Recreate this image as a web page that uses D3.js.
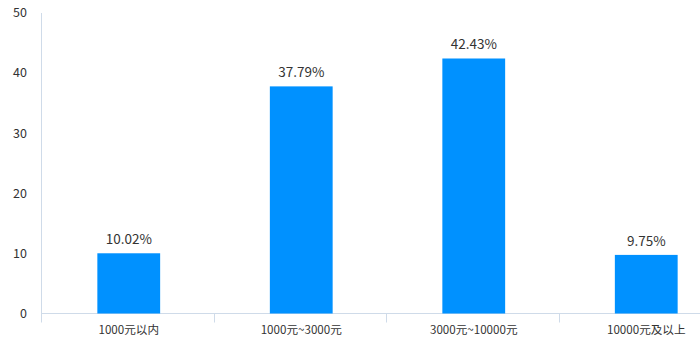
<!DOCTYPE html>
<html><head><meta charset="utf-8">
<script src="https://cdn.jsdelivr.net/npm/d3@7/dist/d3.min.js"></script>
<style>body{margin:0;background:#fff}svg{display:block}text{font-family:"Noto Sans CJK SC","Microsoft YaHei",sans-serif;fill:#333}</style>
</head><body><svg id="c" width="700" height="352"></svg>
<script>
const categories = ["1000元以内", "1000元~3000元", "3000元~10000元", "10000元及以上"];
const values = [10.02, 37.79, 42.43, 9.75];
const yTicks = [0, 10, 20, 30, 40, 50];

const svg = d3.select("#c");
const x = d3.scaleBand().domain(categories).range([41, 731]).paddingInner(0).paddingOuter(0);
const y = d3.scaleLinear().domain([0, 50]).range([313.5, 13]);
const axisColor = "#cfdbe9";
const shift = 1.5;

svg.append("line").attr("x1", 41.5).attr("x2", 41.5).attr("y1", y(50)).attr("y2", y(0)).attr("stroke", axisColor);
svg.selectAll(".yt").data(yTicks).enter().append("text")
  .attr("x", 27).attr("y", d => y(d)).attr("dy", "0.35em").attr("text-anchor", "end")
  .attr("font-size", 12.5).text(d => d);

svg.append("line").attr("x1", 41).attr("x2", 731).attr("y1", y(0)).attr("y2", y(0)).attr("stroke", axisColor);
const bounds = categories.map(c => x(c)).concat([x.range()[1]]);
svg.selectAll(".xt").data(bounds).enter().append("line")
  .attr("x1", d => Math.round(d) + 0.5).attr("x2", d => Math.round(d) + 0.5)
  .attr("y1", y(0)).attr("y2", y(0) + 9).attr("stroke", axisColor);

const bw = 62.8;
const cx = c => x(c) + x.bandwidth() / 2 + shift;
svg.selectAll(".bar").data(values).enter().append("rect")
  .attr("x", (d, i) => cx(categories[i]) - bw / 2)
  .attr("width", bw)
  .attr("y", d => y(d)).attr("height", d => y(0) - y(d))
  .attr("fill", "#0091ff");

svg.selectAll(".vl").data(values).enter().append("text")
  .attr("x", (d, i) => cx(categories[i]))
  .attr("y", d => y(d) - 9).attr("text-anchor", "middle")
  .attr("font-size", 13.5).text(d => d.toFixed(2) + "%");

svg.selectAll(".cl").data(categories).enter().append("text")
  .attr("x", d => cx(d)).attr("y", 334)
  .attr("text-anchor", "middle").attr("font-size", 11.6).text(d => d);
</script></body></html>
